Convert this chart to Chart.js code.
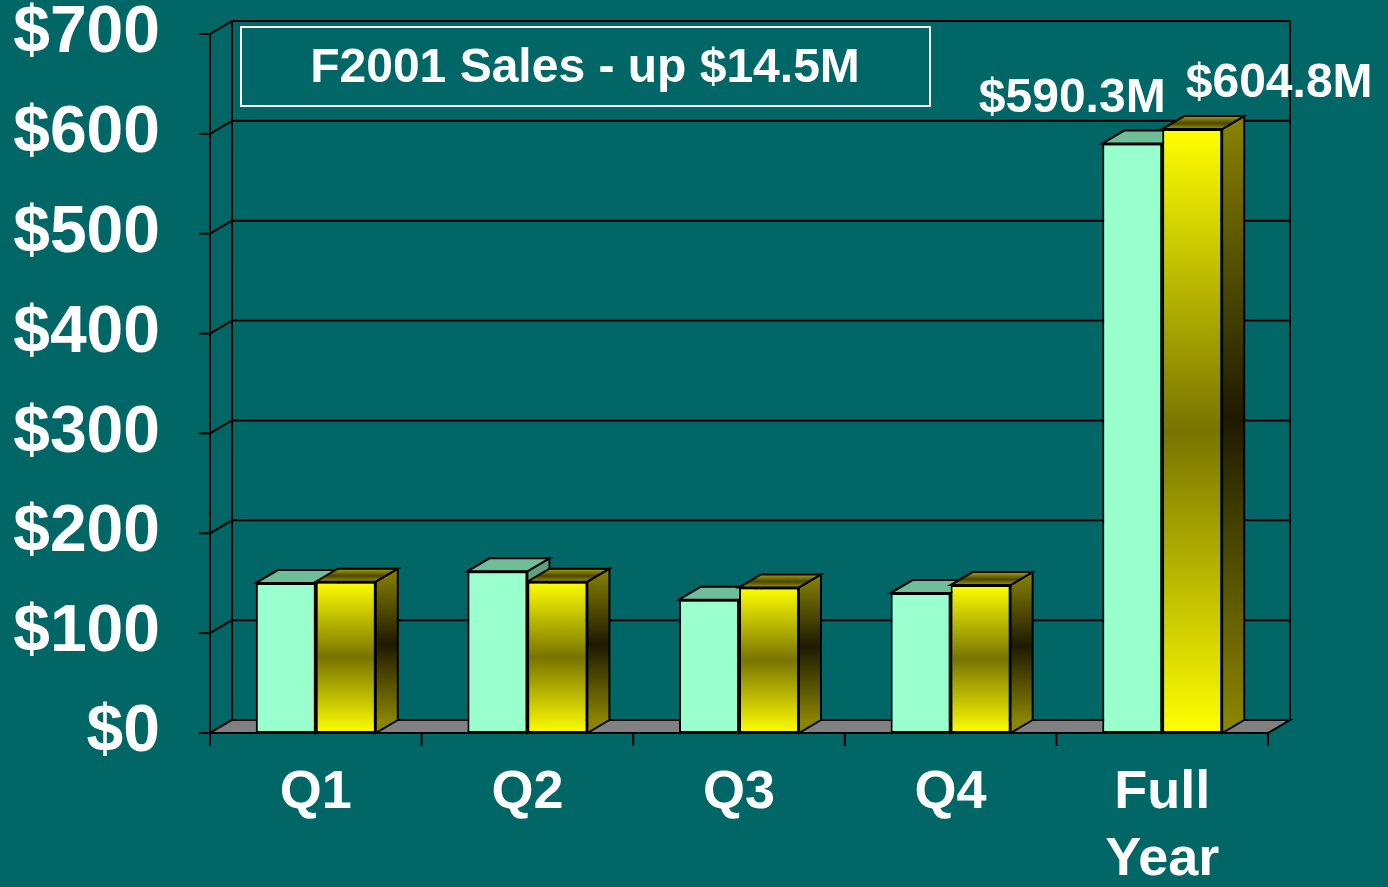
<!DOCTYPE html>
<html>
<head>
<meta charset="utf-8">
<script src="https://cdn.jsdelivr.net/npm/chart.js@4.4.1/dist/chart.umd.min.js"></script>
<style>
  html, body { margin: 0; padding: 0; background: #006666; }
  #wrap { width: 1388px; height: 887px; }
</style>
</head>
<body>
<div id="wrap"><canvas id="sales_chart" width="1388" height="887"></canvas></div>
<script>
// data ($M)
var categories = ['Q1', 'Q2', 'Q3', 'Q4', ['Full', 'Year']];
var sales2000 = [150.1, 161.9, 133.5, 140.1, 590.3];
var sales2001 = [151.5, 151.5, 145.8, 148.1, 604.8];
var fullYearLabels = ['$590.3M', '$604.8M'];
var chartTitle = 'F2001 Sales - up $14.5M';
var yTicks = [0, 100, 200, 300, 400, 500, 600, 700];

var DX = 22, DY = -13; // fake depth
var FONT = "'Liberation Sans', Arial, sans-serif";

Chart.defaults.font.family = FONT;
Chart.defaults.font.weight = 'bold';
Chart.defaults.color = '#ffffff';

function barGradient(ctx, top, base, edge, mid) {
    var g = ctx.createLinearGradient(0, top, 0, base);
    g.addColorStop(0, edge);
    g.addColorStop(0.5, mid);
    g.addColorStop(1, edge);
    return g;
}

function yellowFront(context) {
    var chart = context.chart;
    if (!chart.chartArea || context.type !== 'data') return '#FFFF00';
    var y = chart.scales.y;
    return barGradient(chart.ctx, y.getPixelForValue(context.raw), y.getPixelForValue(0), '#FFFF00', '#787400');
}

function line(ctx, x1, y1, x2, y2) {
    ctx.beginPath();
    ctx.moveTo(x1, y1);
    ctx.lineTo(x2, y2);
    ctx.stroke();
}

function poly(ctx, pts, fill) {
    ctx.beginPath();
    ctx.moveTo(pts[0][0], pts[0][1]);
    for (var i = 1; i < pts.length; i++) ctx.lineTo(pts[i][0], pts[i][1]);
    ctx.closePath();
    ctx.fillStyle = fill;
    ctx.fill();
    ctx.stroke();
}

var fake3d = {
    id: 'fake3d',
    beforeDatasetsDraw: function(chart) {
        var ctx = chart.ctx, a = chart.chartArea, ys = chart.scales.y;
        ctx.save();
        ctx.strokeStyle = '#000';
        ctx.lineWidth = 2;

        // walls + grid
        yTicks.forEach(function(v) {
            var y = ys.getPixelForValue(v);
            line(ctx, a.left + DX, y + DY, a.right + DX, y + DY);
            line(ctx, a.left, y, a.left + DX, y + DY);
            line(ctx, a.left - 11, y, a.left, y);
        });
        line(ctx, a.left, a.top, a.left, a.bottom);
        line(ctx, a.left + DX, a.top + DY, a.left + DX, a.bottom + DY);
        line(ctx, a.right + DX, a.top + DY, a.right + DX, a.bottom + DY);

        // floor
        poly(ctx, [[a.left, a.bottom], [a.right, a.bottom], [a.right + DX, a.bottom + DY], [a.left + DX, a.bottom + DY]], '#808080');

        // category ticks
        var n = categories.length;
        for (var i = 0; i <= n; i++) {
            var x = a.left + i * (a.right - a.left) / n;
            line(ctx, x, a.bottom, x, a.bottom + 13);
        }

        // side + top faces
        var m0 = chart.getDatasetMeta(0), m1 = chart.getDatasetMeta(1);
        for (var k = 0; k < n; k++) {
            [m0.data[k], m1.data[k]].forEach(function(bar, d) {
                var l = bar.x - bar.width / 2, r = bar.x + bar.width / 2, t = bar.y, b = bar.base;
                var side = d === 0 ? '#5f9f80' : barGradient(ctx, t + DY, b + DY, '#8a8400', '#1e1a00');
                poly(ctx, [[r, t], [r + DX, t + DY], [r + DX, b + DY], [r, b]], side);
                var topFill = '#70be99';
                if (d === 1) {
                    topFill = ctx.createLinearGradient(0, t, 0, t + DY);
                    topFill.addColorStop(0, '#9a9600');
                    topFill.addColorStop(0.45, '#4c4600');
                    topFill.addColorStop(1, '#a8a400');
                }
                poly(ctx, [[l, t], [r, t], [r + DX, t + DY], [l + DX, t + DY]], topFill);
            });
        }
        ctx.restore();
    },
    afterDatasetsDraw: function(chart) {
        var ctx = chart.ctx, a = chart.chartArea;
        ctx.save();
        // title box
        ctx.strokeStyle = '#ffffff';
        ctx.lineWidth = 2;
        ctx.strokeRect(a.left + 31, 27, 689, 79);
        ctx.fillStyle = '#ffffff';
        ctx.textAlign = 'center';
        ctx.textBaseline = 'middle';
        ctx.font = 'bold 48px ' + FONT;
        ctx.fillText(chartTitle, a.left + 375, 69);

        // full year value labels
        var last = categories.length - 1;
        var g = chart.getDatasetMeta(0).data[last];
        var y = chart.getDatasetMeta(1).data[last];
        ctx.fillText(fullYearLabels[0], g.x - g.width, g.y - 45);
        ctx.fillText(fullYearLabels[1], y.x + y.width * 1.45, y.y - 45);
        ctx.restore();
    }
};

var ctx = document.getElementById('sales_chart').getContext('2d');
var salesChart = new Chart(ctx, {
    type: 'bar',
    data: {
        labels: categories,
        datasets: [{
            label: 'F2000',
            data: sales2000,
            backgroundColor: '#99FFCC',
            borderColor: '#000',
            borderWidth: 2,
            borderSkipped: false
        }, {
            label: 'F2001',
            data: sales2001,
            backgroundColor: yellowFront,
            borderColor: '#000',
            borderWidth: 2,
            borderSkipped: false
        }]
    },
    options: {
        responsive: false,
        animation: false,
        events: [],
        layout: { padding: { top: 34, right: 120, left: 0, bottom: 0 } },
        datasets: { bar: { categoryPercentage: 0.567, barPercentage: 1.0 } },
        plugins: {
            legend: { display: false },
            tooltip: { enabled: false },
            title: { display: false }
        },
        scales: {
            x: {
                grid: { display: false, drawTicks: false, tickLength: 0 },
                border: { display: false },
                ticks: {
                    color: '#fff',
                    font: { size: 54, weight: 'bold', lineHeight: 1.25 },
                    padding: 26,
                    maxRotation: 0,
                    autoSkip: false
                },
                afterFit: function(scale) {
                    scale.height = 154;
                    scale.paddingLeft = 0;
                    scale.paddingRight = 0;
                }
            },
            y: {
                min: 0,
                max: 700,
                grid: { display: false, drawTicks: false, tickLength: 0 },
                border: { display: false },
                ticks: {
                    stepSize: 100,
                    color: '#fff',
                    font: { size: 66, weight: 'bold', lineHeight: 1.0 },
                    padding: 50,
                    callback: function(v) { return '$' + v; }
                },
                afterFit: function(scale) {
                    scale.width = 210;
                    scale.paddingTop = 0;
                    scale.paddingBottom = 0;
                }
            }
        }
    },
    plugins: [fake3d]
});
</script>
</body>
</html>
